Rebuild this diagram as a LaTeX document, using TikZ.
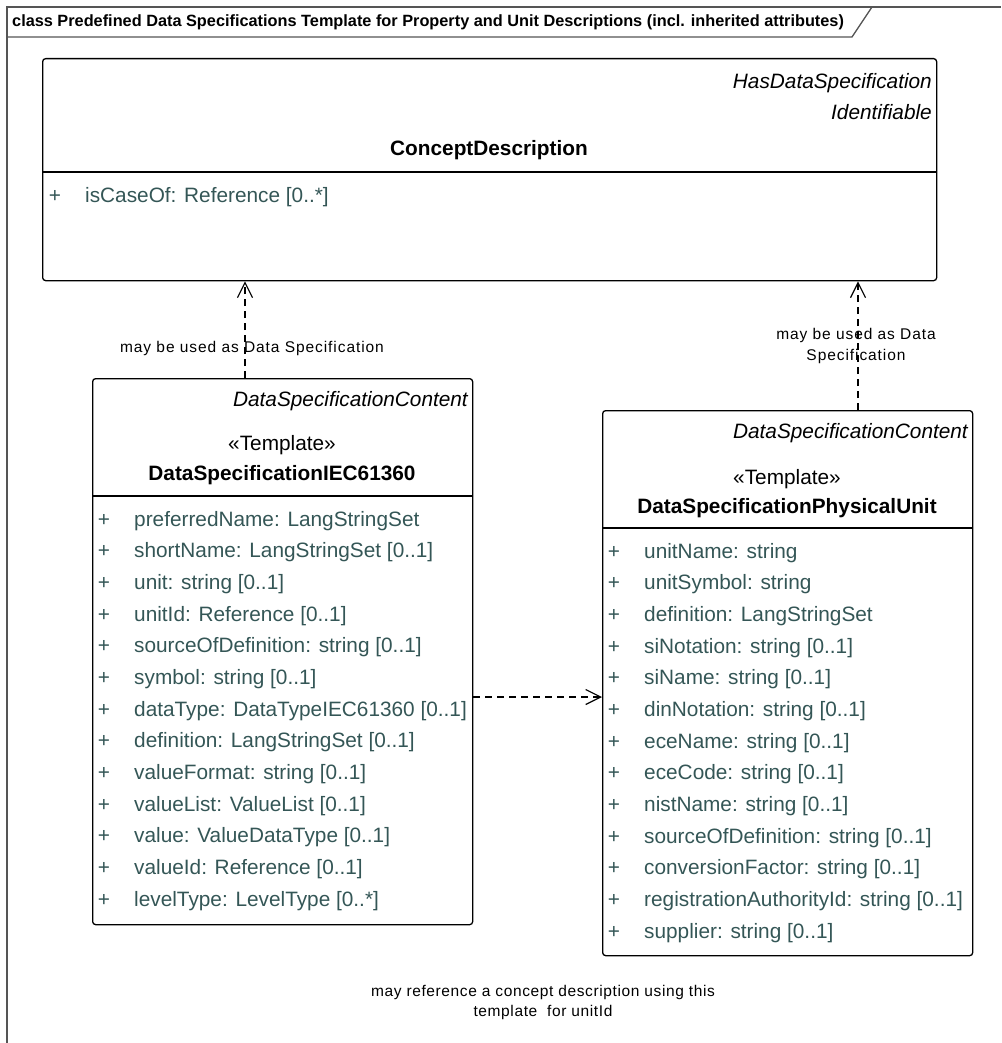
\documentclass[tikz,border=0pt]{standalone}
\usepackage{fontspec}
\setmainfont{Liberation Sans}
\usetikzlibrary{arrows.meta}
\definecolor{attrc}{RGB}{52,86,86}
\definecolor{framec}{RGB}{85,85,85}
\begin{document}
\begin{tikzpicture}[x=1pt,y=-1pt,
  classbox/.style={draw, line width=1.3pt, rounded corners=3pt, inner sep=0pt, anchor=north west},
  divline/.style={line width=1.3pt},
  attrtext/.style={font=\fontsize{20.8}{24}\selectfont, text=attrc, inner sep=0pt, anchor=west, text height=15pt, text depth=4.5pt},
  plustext/.style={font=\fontsize{20.8}{24}\selectfont, text=attrc, inner sep=0pt, text height=15pt, text depth=4.5pt},
  stereo/.style={font=\fontsize{20.8}{24}\selectfont\itshape, inner sep=0pt, anchor=east, text height=15pt, text depth=4.5pt},
  tmpl/.style={font=\fontsize{20.8}{24}\selectfont, inner sep=0pt, text height=15pt, text depth=4.5pt},
  cname/.style={font=\fontsize{20.8}{24}\selectfont\bfseries, inner sep=0pt, text height=15pt, text depth=4.5pt},
  lbl/.style={font=\fontsize{15.5}{21}\selectfont\addfontfeatures{LetterSpace=6}, inner sep=0pt, align=center},
  dep/.style={line width=1.2pt, dash pattern=on 7pt off 5pt, -{Straight Barb[length=15pt,width=15pt]}},
  frameline/.style={draw=framec, line width=1.8pt}
]
\useasboundingbox (0,0) rectangle (1001,1043);

% frame
\draw[frameline] (7,1043) -- (7,7) -- (1001,7);
\draw[frameline, line width=1.3pt] (7,37) -- (852,37) -- (872,7);
\node[font=\fontsize{16.3}{18}\selectfont\bfseries, anchor=west, inner sep=0pt] (title) at (12,22)
  {class Predefined Data Specifications Template for Property and Unit Descriptions (incl. inherited attributes)};

% ConceptDescription
\node[classbox, minimum width=894pt, minimum height=222pt] (cd) at (42,58) {};
\draw[divline] (42,172) -- (936,172);
\node[stereo] (cdst1) at (932,83) {HasDataSpecification};
\node[stereo] (cdst2) at (932,114) {Identifiable};
\node[cname] (cdname) at (489,150) {ConceptDescription};
\node[plustext] (cdp0) at (55,197) {+};
\node[attrtext] (cda0) at (85,197) {isCaseOf: Reference [0..*]};

% DataSpecificationIEC61360
\node[classbox, minimum width=380pt, minimum height=546pt] (iec) at (92,378) {};
\draw[divline] (92,496) -- (472,496);
\node[stereo] (iecst) at (468,401) {DataSpecificationContent};
\node[tmpl] (ieckw) at (282,445) {«Template»};
\node[cname] (iecname) at (282,475) {DataSpecificationIEC61360};
\foreach \t [count=\i from 0] in {
  {preferredName: LangStringSet},
  {shortName: LangStringSet [0..1]},
  {unit: string [0..1]},
  {unitId: Reference [0..1]},
  {sourceOfDefinition: string [0..1]},
  {symbol: string [0..1]},
  {dataType: DataTypeIEC61360 [0..1]},
  {definition: LangStringSet [0..1]},
  {valueFormat: string [0..1]},
  {valueList: ValueList [0..1]},
  {value: ValueDataType [0..1]},
  {valueId: Reference [0..1]},
  {levelType: LevelType [0..*]}} {
  \node[plustext] (iecp\i) at (104,521+31.67*\i) {+};
  \node[attrtext] (ieca\i) at (134,521+31.67*\i) {\t};
}

% DataSpecificationPhysicalUnit
\node[classbox, minimum width=370pt, minimum height=545pt] (pu) at (602,410) {};
\draw[divline] (602,528) -- (972,528);
\node[stereo] (pust) at (968,433) {DataSpecificationContent};
\node[tmpl] (pukw) at (787,479) {«Template»};
\node[cname] (puname) at (787,508) {DataSpecificationPhysicalUnit};
\foreach \t [count=\i from 0] in {
  {unitName: string},
  {unitSymbol: string},
  {definition: LangStringSet},
  {siNotation: string [0..1]},
  {siName: string [0..1]},
  {dinNotation: string [0..1]},
  {eceName: string [0..1]},
  {eceCode: string [0..1]},
  {nistName: string [0..1]},
  {sourceOfDefinition: string [0..1]},
  {conversionFactor: string [0..1]},
  {registrationAuthorityId: string [0..1]},
  {supplier: string [0..1]}} {
  \node[plustext] (pup\i) at (614,553+31.67*\i) {+};
  \node[attrtext] (pua\i) at (644,553+31.67*\i) {\t};
}

% connectors
\draw[dep] ([xshift=153pt]iec.north west) -- ([xshift=203pt]cd.south west);
\draw[dep] ([xshift=256pt]pu.north west) -- ([xshift=816pt]cd.south west);
\draw[dep] ([yshift=-319pt]iec.north east) -- ([yshift=-287pt]pu.north west);

% labels
\node[lbl] (lab1) at (252,348) {may be used as Data Specification};
\node[lbl] (lab2) at (856,346) {may be used as Data\\Specification};
\node[lbl, font=\fontsize{15.5}{20}\selectfont\addfontfeatures{LetterSpace=4}] (lab3) at (543,1002) {may reference a concept description using this\\template\ \ for unitId};
\end{tikzpicture}
\end{document}
